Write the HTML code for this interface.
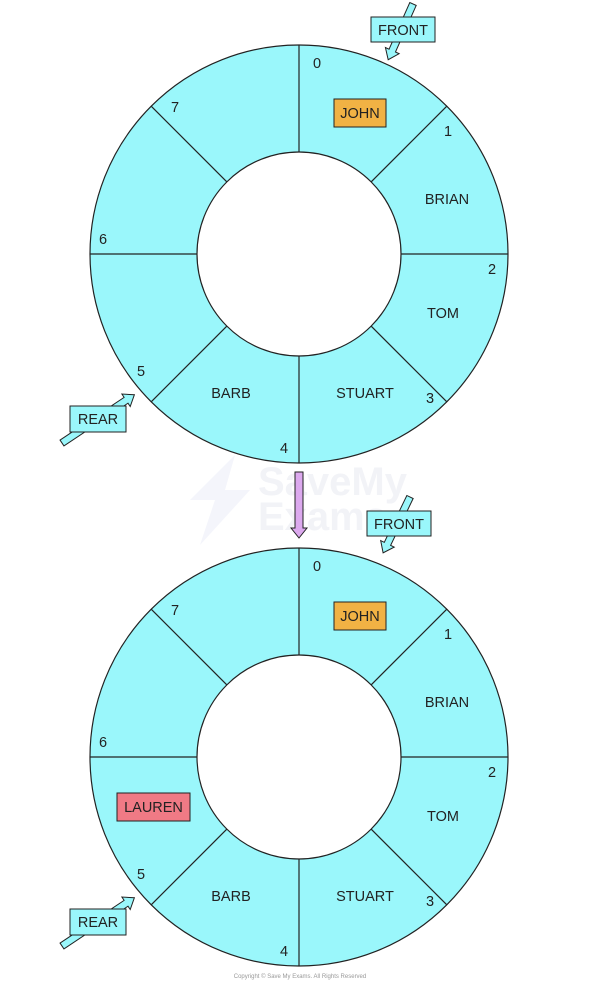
<!DOCTYPE html>
<html><head><style>
html,body{margin:0;padding:0;background:#fff;}
svg{display:block;}
text{font-family:"Liberation Sans",sans-serif;font-size:14.5px;fill:#222;}
</style></head><body>
<svg width="601" height="984" viewBox="0 0 601 984" xmlns="http://www.w3.org/2000/svg">
<defs>
<g id="ring">
 <circle cx="0" cy="0" r="209" fill="#9af7fb" stroke="#222" stroke-width="1.2"/>
 <circle cx="0" cy="0" r="102" fill="#fff" stroke="#222" stroke-width="1.2"/>
 <g stroke="#222" stroke-width="1.2">
  <line x1="0" y1="-102" x2="0" y2="-209"/>
  <line x1="72.1" y1="-72.1" x2="147.8" y2="-147.8"/>
  <line x1="102" y1="0" x2="209" y2="0"/>
  <line x1="72.1" y1="72.1" x2="147.8" y2="147.8"/>
  <line x1="0" y1="102" x2="0" y2="209"/>
  <line x1="-72.1" y1="72.1" x2="-147.8" y2="147.8"/>
  <line x1="-102" y1="0" x2="-209" y2="0"/>
  <line x1="-72.1" y1="-72.1" x2="-147.8" y2="-147.8"/>
 </g>
 <rect x="35" y="-155" width="52" height="28" fill="#f1b244" stroke="#222"/>
 <text x="61" y="-136" text-anchor="middle">JOHN</text>
 <text x="18" y="-186" text-anchor="middle">0</text>
 <text x="149" y="-118" text-anchor="middle">1</text>
 <text x="148" y="-50" text-anchor="middle">BRIAN</text>
 <text x="193" y="20" text-anchor="middle">2</text>
 <text x="144" y="64" text-anchor="middle">TOM</text>
 <text x="131" y="149" text-anchor="middle">3</text>
 <text x="66" y="144" text-anchor="middle">STUART</text>
 <text x="-15" y="199" text-anchor="middle">4</text>
 <text x="-68" y="144" text-anchor="middle">BARB</text>
 <text x="-158" y="122" text-anchor="middle">5</text>
 <text x="-196" y="-10" text-anchor="middle">6</text>
 <text x="-124" y="-142" text-anchor="middle">7</text>
</g>
</defs>

<polygon points="235,455 190,500 215,500 200,545 250,490 225,490" fill="#f4f5fb"/>
<text x="258" y="495" style="font-size:40px;fill:#f2f3f7;font-weight:bold">SaveMy</text>
<text x="258" y="530" style="font-size:40px;fill:#f2f3f7;font-weight:bold">Exams</text>

<use href="#ring" x="299" y="254"/>
<use href="#ring" x="299" y="757"/>

<rect x="117" y="793" width="73" height="28" fill="#f07a85" stroke="#222"/>
<text x="153.5" y="812" text-anchor="middle">LAUREN</text>

<g fill="#9af7fb" stroke="#222" stroke-width="1">
 <g transform="translate(413,4) rotate(114)"><polygon points="0,-3.5 51,-3.5 51,-7.5 61,0 51,7.5 51,3.5 0,3.5"/></g>
 <g transform="translate(62,443) rotate(-33.7)"><polygon points="0,-3.5 77,-3.5 77,-7.5 87,0 77,7.5 77,3.5 0,3.5"/></g>
 <g transform="translate(410,497) rotate(115.7)"><polygon points="0,-3.5 52,-3.5 52,-7.5 62,0 52,7.5 52,3.5 0,3.5"/></g>
 <g transform="translate(62,946) rotate(-33.7)"><polygon points="0,-3.5 77,-3.5 77,-7.5 87,0 77,7.5 77,3.5 0,3.5"/></g>
</g>
<g transform="translate(299,472) rotate(90)"><polygon points="0,-4 56,-4 56,-8 66,0 56,8 56,4 0,4" fill="#dca9ee" stroke="#222"/></g>

<g fill="#9af7fb" stroke="#222">
 <rect x="371" y="17" width="64" height="25"/>
 <rect x="70" y="406" width="56" height="26"/>
 <rect x="367" y="511" width="64" height="25"/>
 <rect x="70" y="909" width="56" height="26"/>
</g>
<text x="403" y="35" text-anchor="middle">FRONT</text>
<text x="98" y="424" text-anchor="middle">REAR</text>
<text x="399" y="529" text-anchor="middle">FRONT</text>
<text x="98" y="927" text-anchor="middle">REAR</text>

<text x="300" y="978" text-anchor="middle" style="font-size:6px;fill:#999">Copyright © Save My Exams. All Rights Reserved</text>
</svg>
</body></html>
